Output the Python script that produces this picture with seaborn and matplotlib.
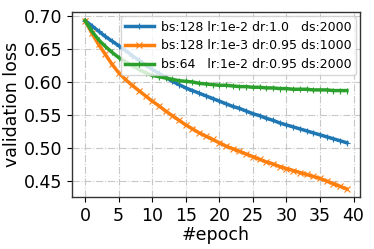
import numpy as np
import pandas as pd
import matplotlib
matplotlib.use("Agg")
import matplotlib.pyplot as plt
import seaborn as sns

# validation loss per epoch
epochs = list(range(40))
loss_a = [0.693, 0.685, 0.677, 0.669, 0.662, 0.655, 0.648, 0.640, 0.633, 0.626,
          0.619, 0.613, 0.607, 0.601, 0.596, 0.591, 0.587, 0.583, 0.579, 0.575,
          0.571, 0.567, 0.563, 0.560, 0.556, 0.552, 0.549, 0.545, 0.542, 0.538,
          0.535, 0.532, 0.529, 0.526, 0.523, 0.520, 0.517, 0.514, 0.511, 0.508]
loss_b = [0.693, 0.674, 0.657, 0.642, 0.627, 0.614, 0.604, 0.595, 0.587, 0.579,
          0.571, 0.564, 0.556, 0.549, 0.542, 0.535, 0.529, 0.523, 0.518, 0.513,
          0.508, 0.503, 0.499, 0.495, 0.491, 0.487, 0.483, 0.479, 0.476, 0.472,
          0.469, 0.466, 0.463, 0.460, 0.457, 0.454, 0.450, 0.446, 0.442, 0.438]
loss_c = [0.693, 0.677, 0.664, 0.654, 0.645, 0.637, 0.631, 0.625, 0.619, 0.614,
          0.610, 0.608, 0.606, 0.604, 0.602, 0.601, 0.600, 0.598, 0.597, 0.596,
          0.595, 0.595, 0.594, 0.593, 0.593, 0.592, 0.592, 0.591, 0.591, 0.590,
          0.590, 0.589, 0.589, 0.589, 0.588, 0.588, 0.588, 0.587, 0.587, 0.587]
labels = ["bs:128 lr:1e-2 dr:1.0   ds:2000",
          "bs:128 lr:1e-3 dr:0.95 ds:1000",
          "bs:64   lr:1e-2 dr:0.95 ds:2000"]
colors = ["#1f77b4", "#ff7f0e", "#2ca02c"]
markers = ["+", "x", "|"]

plt.rcParams['font.family'] = ['DejaVu Sans']

fig = plt.figure(figsize=(3.74, 2.49), dpi=100)
ax = fig.add_axes([0.1925, 0.209, 0.770, 0.743])

for vals, lab, col, mk in zip([loss_a, loss_b, loss_c], labels, colors, markers):
    sns.lineplot(x=epochs, y=vals, label=lab, color=col, marker=mk,
                 markersize=4, markeredgecolor=col, markeredgewidth=0.8,
                 linewidth=2.5, ax=ax)

ax.set_ylim(0.426, 0.706)
ax.set_xticks([0, 5, 10, 15, 20, 25, 30, 35, 40])
ax.set_yticks([0.45, 0.50, 0.55, 0.60, 0.65, 0.70])
ax.grid(True, linestyle="-.", color="#c8c8c8", linewidth=0.8)
ax.set_axisbelow(True)
ax.tick_params(axis="both", labelsize=12.5, length=3.5, width=0.8)
ax.set_xlabel("#epoch", fontsize=12.5, labelpad=1)
ax.set_ylabel("validation loss", fontsize=12.5, labelpad=2)
for side in ["top", "right", "left", "bottom"]:
    ax.spines[side].set_color("#333333")
    ax.spines[side].set_linewidth(1.0)

ax.legend(loc="upper right", fontsize=9.0, handlelength=2.3, handletextpad=0.55,
          frameon=True, framealpha=0.8, borderpad=0.35, labelspacing=0.45,
          borderaxespad=0.35)

fig.savefig("out.png", dpi=100)
